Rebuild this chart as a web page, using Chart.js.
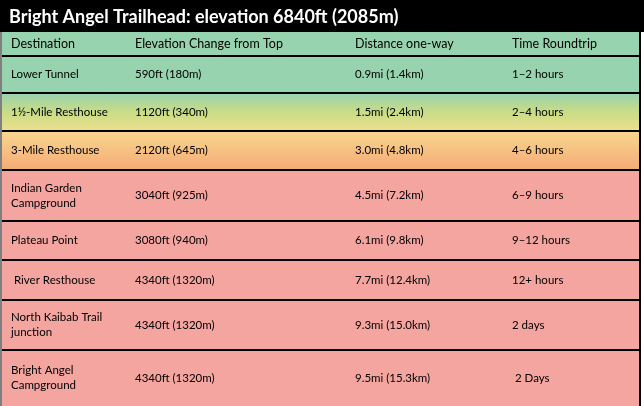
<!DOCTYPE html><html><head><meta charset="utf-8">
<script src="https://cdn.jsdelivr.net/npm/chart.js@4"></script>
<style>html,body{margin:0;padding:0;background:#fff}#w{width:644px;height:406px}</style></head><body>
<div id="w"><canvas id="c"></canvas></div>
<script>
const title = "Bright Angel Trailhead: elevation 6840ft (2085m)";
const headers = ["Destination","Elevation Change from Top","Distance one-way","Time Roundtrip"];
const destinations = ["Lower Tunnel","1½-Mile Resthouse","3-Mile Resthouse","Indian Garden\nCampground","Plateau Point"," River Resthouse","North Kaibab Trail\njunction","Bright Angel\nCampground"];
const elevation = ["590ft (180m)","1120ft (340m)","2120ft (645m)","3040ft (925m)","3080ft (940m)","4340ft (1320m)","4340ft (1320m)","4340ft (1320m)"];
const distance = ["0.9mi (1.4km)","1.5mi (2.4km)","3.0mi (4.8km)","4.5mi (7.2km)","6.1mi (9.8km)","7.7mi (12.4km)","9.3mi (15.0km)","9.5mi (15.3km)"];
const timeRT = ["1–2 hours","2–4 hours","4–6 hours","6–9 hours","9–12 hours","12+ hours","2 days"," 2 Days"];
const rowEdges = [32,56,93,131,170,221,260,300,350,406];
const colStarts = [11,135,355,512];
const rowColors = [["#97d3ae"],["#97d3ae"],["#97d3ae","#c9dc86","#ece08e"],["#f9d68e","#f4ab76"],["#f5a5a0"],["#f5a5a0"],["#f5a5a0"],["#f5a5a0"],["#f5a5a0"]];

const tablePlugin = {id:'table', beforeDatasetsDraw(chart){
  const ctx=chart.ctx, X=v=>chart.scales.x.getPixelForValue(v), Y=v=>chart.scales.y.getPixelForValue(v);
  ctx.save();
  ctx.fillStyle="#000"; ctx.fillRect(X(0),Y(0),X(644)-X(0),Y(32)-Y(0));
  ctx.fillStyle="#fff"; ctx.font="bold 18px Lato"; ctx.textBaseline="middle";
  ctx.fillText(title,X(9),Y(17));
  const rows=[headers].concat(destinations.map((d,i)=>[d,elevation[i],distance[i],timeRT[i]]));
  const L=X(2),R=X(640);
  rows.forEach((r,i)=>{
    const t=Y(rowEdges[i]),b=Y(rowEdges[i+1]);
    const cs=rowColors[i];
    if(cs.length===1) ctx.fillStyle=cs[0]; else {const g=ctx.createLinearGradient(0,t,0,b);cs.forEach((c,k)=>g.addColorStop(k/(cs.length-1),c));ctx.fillStyle=g;}
    ctx.fillRect(L,t,R-L,b-t);
    ctx.fillStyle="#000"; ctx.font=(i===0?"12.5px":"11.5px")+" Lato";
    const mid=(t+b)/2;
    r.forEach((txt,j)=>{const lines=txt.split("\n");lines.forEach((ln,k)=>{ctx.fillText(ln,X(colStarts[j]),mid+(k-(lines.length-1)/2)*15);});});
  });
  ctx.strokeStyle="#000"; ctx.lineWidth=2;
  rowEdges.slice(1,-1).forEach(e=>{ctx.beginPath();ctx.moveTo(L,Y(e));ctx.lineTo(R,Y(e));ctx.stroke();});
  ctx.beginPath();ctx.moveTo(R,Y(32));ctx.lineTo(R,Y(406));ctx.stroke();
  ctx.lineWidth=1;ctx.beginPath();ctx.moveTo(L-1,Y(32));ctx.lineTo(L-1,Y(406));ctx.stroke();
  ctx.restore();
}};
new Chart(document.getElementById('c'),{type:'scatter',data:{datasets:[{data:[]}]},
 options:{responsive:true,maintainAspectRatio:false,animation:false,layout:{padding:0},
  plugins:{legend:{display:false},tooltip:{enabled:false}},
  scales:{x:{type:'linear',min:0,max:644,display:false},y:{type:'linear',min:0,max:406,reverse:true,display:false}}},
 plugins:[tablePlugin]});
</script></body></html>
